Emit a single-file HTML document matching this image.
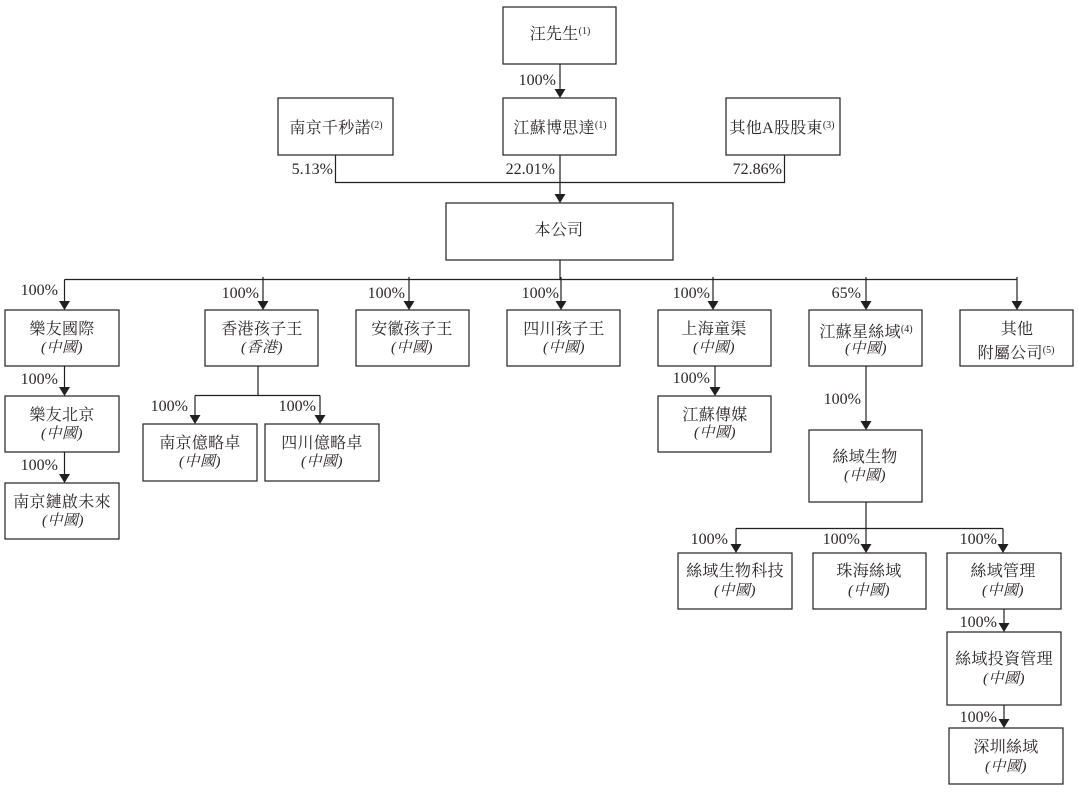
<!DOCTYPE html>
<html><head><meta charset="utf-8"><style>
html,body{margin:0;padding:0;background:#fff}
svg{display:block}
text{font-family:"Liberation Serif","Noto Serif CJK SC",serif;fill:#2b2627}
.n{font-size:16px;text-anchor:middle;letter-spacing:.3px}
.i{font-size:15px;text-anchor:middle;font-style:italic;letter-spacing:.5px}
.p{font-size:16px;text-anchor:end}
.s{font-size:10px;letter-spacing:0}
rect{fill:#fff;stroke:#231f20;stroke-width:1.2}
path.l{fill:none;stroke:#231f20;stroke-width:1.2}
path.a{fill:#231f20}
</style></head><body>
<svg width="1078" height="798" viewBox="0 0 1078 798" xmlns="http://www.w3.org/2000/svg">
<path class="l" d="M560 64V90M335.500 155V182.500H784.500V155M560 155V195M560 260V280M64.500 279.500H1017M64.500 279.500V302M263 277V302M409 277V302M561 277V302M713 277V302M866 277V302M1017 277V302M64.500 366V388M64.500 452V475M258 366V395.500M195 395.500H320M195 395.500V416M320 395.500V416M715 366V388M866 366V422M866 502V528.500M736 528.500H1003M736 528.500V545M866 528.500V545M1003 528.500V545M1004 609V624M1004 705V720"/>
<path class="a" d="M554.500 89h11l-5.500 9zM554.500 194h11l-5.500 9zM59 301h11l-5.500 9zM257.500 301h11l-5.500 9zM403.500 301h11l-5.500 9zM555.500 301h11l-5.500 9zM707.500 301h11l-5.500 9zM860.500 301h11l-5.500 9zM1011.500 301h11l-5.500 9zM59 387h11l-5.500 9zM59 474h11l-5.500 9zM189.500 415h11l-5.500 9zM314.500 415h11l-5.500 9zM709.500 387h11l-5.500 9zM860.500 421h11l-5.500 9zM730.500 544h11l-5.500 9zM860.500 544h11l-5.500 9zM997.500 544h11l-5.500 9zM998.500 623h11l-5.500 9zM998.500 719h11l-5.500 9z"/>
<rect x="503" y="7" width="113" height="57"/>
<rect x="278" y="98" width="115" height="57"/>
<rect x="503" y="98" width="113" height="57"/>
<rect x="726" y="98" width="114" height="57"/>
<rect x="446" y="203" width="227" height="57"/>
<rect x="5" y="310" width="114" height="56"/>
<rect x="205" y="310" width="113" height="56"/>
<rect x="356" y="310" width="113" height="56"/>
<rect x="507" y="310" width="113" height="56"/>
<rect x="658" y="310" width="113" height="56"/>
<rect x="809" y="310" width="113" height="56"/>
<rect x="960" y="310" width="113" height="56"/>
<rect x="5" y="396" width="114" height="56"/>
<rect x="5" y="483" width="114" height="56"/>
<rect x="143" y="424" width="114" height="57"/>
<rect x="265" y="424" width="114" height="57"/>
<rect x="658" y="396" width="113" height="56"/>
<rect x="809" y="430" width="113" height="72"/>
<rect x="678" y="553" width="114" height="56"/>
<rect x="813" y="553" width="113" height="56"/>
<rect x="947" y="553" width="114" height="56"/>
<rect x="947" y="632" width="114" height="73"/>
<rect x="949" y="728" width="114" height="56"/>

<text class="n" x="560" y="39">汪先生<tspan class="s" dy="-5">(1)</tspan></text>
<text class="n" x="336" y="133">南京千秒諾<tspan class="s" dy="-5">(2)</tspan></text>
<text class="n" x="560" y="133">江蘇博思達<tspan class="s" dy="-5">(1)</tspan></text>
<text class="n" x="782" y="133">其他A股股東<tspan class="s" dy="-5">(3)</tspan></text>
<text class="n" x="559" y="235">本公司</text>

<text class="n" x="62" y="334">樂友國際</text><text class="i" x="62" y="352">(中國)</text>
<text class="n" x="262" y="334">香港孩子王</text><text class="i" x="262" y="352">(香港)</text>
<text class="n" x="412" y="334">安徽孩子王</text><text class="i" x="412" y="352">(中國)</text>
<text class="n" x="564" y="334">四川孩子王</text><text class="i" x="564" y="352">(中國)</text>
<text class="n" x="714" y="334">上海童渠</text><text class="i" x="714" y="352">(中國)</text>
<text class="n" x="866" y="337">江蘇星絲域<tspan class="s" dy="-5">(4)</tspan></text><text class="i" x="866" y="353">(中國)</text>
<text class="n" x="1017" y="334">其他</text><text class="n" x="1016" y="358">附屬公司<tspan class="s" dy="-5">(5)</tspan></text>
<text class="n" x="62" y="420">樂友北京</text><text class="i" x="62" y="438">(中國)</text>
<text class="n" x="62" y="507">南京鏈啟未來</text><text class="i" x="63" y="525">(中國)</text>
<text class="n" x="200" y="448">南京億略卓</text><text class="i" x="200" y="466">(中國)</text>
<text class="n" x="322" y="448">四川億略卓</text><text class="i" x="322" y="466">(中國)</text>
<text class="n" x="715" y="420">江蘇傳媒</text><text class="i" x="715" y="437">(中國)</text>
<text class="n" x="865" y="462">絲域生物</text><text class="i" x="865" y="480">(中國)</text>
<text class="n" x="735" y="576">絲域生物科技</text><text class="i" x="735" y="595">(中國)</text>
<text class="n" x="869" y="576">珠海絲域</text><text class="i" x="869" y="595">(中國)</text>
<text class="n" x="1003" y="576">絲域管理</text><text class="i" x="1003" y="595">(中國)</text>
<text class="n" x="1004" y="664">絲域投資管理</text><text class="i" x="1004" y="683">(中國)</text>
<text class="n" x="1006" y="752">深圳絲域</text><text class="i" x="1006" y="771">(中國)</text>

<text class="p" x="556" y="85">100%</text>
<text class="p" x="333" y="174">5.13%</text>
<text class="p" x="555" y="174">22.01%</text>
<text class="p" x="782" y="174">72.86%</text>
<text class="p" x="58" y="295">100%</text>
<text class="p" x="259" y="298">100%</text>
<text class="p" x="405" y="298">100%</text>
<text class="p" x="559" y="298">100%</text>
<text class="p" x="710" y="298">100%</text>
<text class="p" x="861" y="298">65%</text>
<text class="p" x="58" y="384">100%</text>
<text class="p" x="58" y="470">100%</text>
<text class="p" x="188" y="411">100%</text>
<text class="p" x="316" y="411">100%</text>
<text class="p" x="710" y="383">100%</text>
<text class="p" x="861" y="404">100%</text>
<text class="p" x="728" y="544">100%</text>
<text class="p" x="860" y="544">100%</text>
<text class="p" x="997" y="544">100%</text>
<text class="p" x="997" y="627">100%</text>
<text class="p" x="997" y="722">100%</text>
</svg>
</body></html>
